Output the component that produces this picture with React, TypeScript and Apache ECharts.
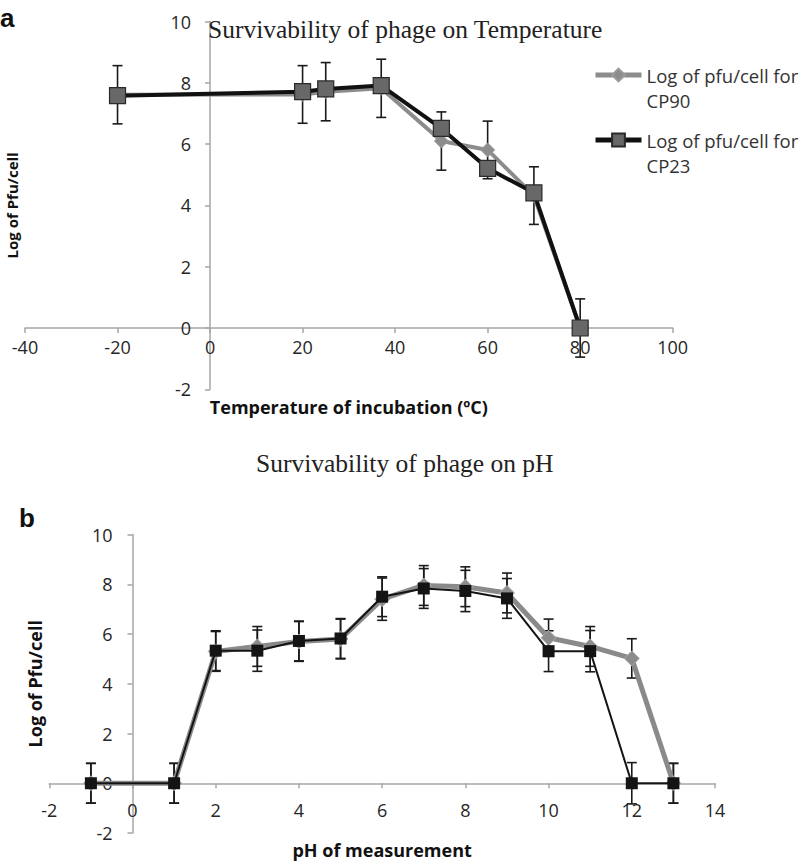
import React, { useEffect, useRef } from "react";
import * as echarts from "echarts";

// Panel a: survivability vs incubation temperature (ºC)
const tempX = [-20, 20, 25, 37, 50, 60, 70, 80];
const tempCP90 = [7.61, 7.62, 7.71, 7.82, 6.1, 5.81, 4.32, 0];
const tempCP90Err = [0.95, 0.94, 0.95, 0.95, 0.95, 0.94, 0.94, 0.95];
const tempCP23 = [7.58, 7.71, 7.8, 7.91, 6.51, 5.21, 4.41, 0];

// Panel b: survivability vs pH
const phX = [-1, 1, 2, 3, 4, 5, 6, 7, 8, 9, 10, 11, 12, 13];
const phCP90 = [0, 0, 5.3, 5.5, 5.7, 5.8, 7.4, 7.95, 7.9, 7.65, 5.85, 5.5, 5.02, 0];
const phCP90Err = [0.8, 0.8, 0.8, 0.8, 0.8, 0.8, 0.85, 0.8, 0.8, 0.8, 0.75, 0.8, 0.79, 0.8];
const phCP23 = [0, 0, 5.33, 5.33, 5.72, 5.82, 7.5, 7.83, 7.73, 7.43, 5.31, 5.31, 0, 0];
const phCP23Err = [0.8, 0.8, 0.8, 0.83, 0.8, 0.8, 0.8, 0.8, 0.83, 0.8, 0.82, 0.83, 0.83, 0.8];

// axis ranges: [min, max, interval]
const tempXRange = [-40, 100, 20];
const tempYRange = [-2, 10, 2];
const phXRange = [-2, 14, 2];
const phYRange = [-2, 10, 2];

const NAME_CP90 = "Log of pfu/cell for CP90";
const NAME_CP23 = "Log of pfu/cell for CP23";

const SANS = "Open Sans";
const AXIS_GRAY = "#a6a6a6";
const LABEL_COLOR = "#262626";

// grid boxes
const gridA = { left: 25, top: 21.5, width: 647.7, height: 367.8 };
const gridB = { left: 49.3, top: 534.5, width: 665.7, height: 298.5 };

const pairs = (xs: number[], ys: number[]) => xs.map((x, i) => [x, ys[i]]);
const ranges = (xs: number[], ys: number[], es: number[]) =>
  xs.map((x, i) => [x, ys[i] - es[i], ys[i] + es[i]]);

// distance from the grid edge (at `min`) to the zero crossing, in px
const zeroShift = (range: number[], size: number) => ((0 - range[0]) / (range[1] - range[0])) * size;

const errorBarItem = (_params: any, api: any) => {
  const x = api.value(0);
  const hi = api.coord([x, api.value(2)]);
  const lo = api.coord([x, api.value(1)]);
  const half = 5;
  const style = { stroke: "#1a1a1a", lineWidth: 1.6 };
  return {
    type: "group",
    children: [
      { type: "line", shape: { x1: hi[0], y1: hi[1], x2: lo[0], y2: lo[1] }, style },
      { type: "line", shape: { x1: hi[0] - half, y1: hi[1], x2: hi[0] + half, y2: hi[1] }, style },
      { type: "line", shape: { x1: lo[0] - half, y1: lo[1], x2: lo[0] + half, y2: lo[1] }, style },
    ],
  };
};

const valueAxis = (gridIndex: number, range: number[], labelMargin: number, offset: number, extra: any) => ({
  type: "value",
  gridIndex,
  min: range[0],
  max: range[1],
  interval: range[2],
  offset,
  splitLine: { show: false },
  axisLine: { show: true, onZero: false, lineStyle: { color: AXIS_GRAY, width: 1.5 } },
  axisTick: { show: true, length: 5, lineStyle: { color: AXIS_GRAY, width: 1.5 } },
  axisLabel: {
    margin: labelMargin,
    color: LABEL_COLOR,
    fontFamily: SANS,
    fontSize: 18,
    showMinLabel: true,
    showMaxLabel: true,
  },
  ...extra,
});

const axisNameStyle = (size: number) => ({
  fontFamily: SANS,
  fontWeight: "bold",
  fontSize: size,
  color: "#111",
});

export default function App() {
  const ref = useRef<HTMLDivElement>(null);

  useEffect(() => {
    if (!ref.current) return;
    const chart = echarts.init(ref.current, undefined, { renderer: "svg" });

    const serifTitle = { fontFamily: "Liberation Serif", fontSize: 25.5, fontWeight: "normal", color: "#222" };
    const panelTag = { fontFamily: "Liberation Sans", fontSize: 26, fontWeight: "bold", color: "#111" };

    const option: any = {
      animation: false,
      backgroundColor: "#ffffff",
      title: [
        { text: "Survivability of phage on Temperature", left: 208, top: 16, padding: 0, textStyle: serifTitle },
        { text: "Survivability of phage on pH", left: 256, top: 450, padding: 0, textStyle: serifTitle },
        { text: "a", left: 0, top: 5, padding: 0, textStyle: panelTag },
        { text: "b", left: 19, top: 505, padding: 0, textStyle: panelTag },
      ],
      legend: {
        orient: "vertical",
        left: 593,
        top: 37.5,
        padding: 0,
        itemWidth: 46,
        itemHeight: 16,
        itemGap: -10,
        lineStyle: { width: 5 },
        data: [NAME_CP90, NAME_CP23],
        formatter: (name: string) => "\n" + name.replace(" CP", "\nCP"),
        textStyle: {
          fontFamily: SANS,
          fontSize: 18.5,
          color: "#333",
          lineHeight: 25,
        },
      },
      grid: [
        { ...gridA, outerBoundsMode: "none" },
        { ...gridB, outerBoundsMode: "none" },
      ],
      xAxis: [
        valueAxis(0, tempXRange, 10, -zeroShift(tempYRange, gridA.height), {
          position: "bottom",
          name: "Temperature of incubation (ºC)",
          nameLocation: "middle",
          nameGap: 70,
          nameTextStyle: axisNameStyle(18),
        }),
        valueAxis(1, phXRange, 18, -zeroShift(phYRange, gridB.height), {
          position: "bottom",
          name: "pH of measurement",
          nameLocation: "middle",
          nameGap: 58,
          nameTextStyle: axisNameStyle(18),
        }),
      ],
      yAxis: [
        valueAxis(0, tempYRange, 19, -zeroShift(tempXRange, gridA.width), {
          position: "left",
          name: "Log of Pfu/cell",
          nameLocation: "middle",
          nameGap: 191,
          nameTextStyle: axisNameStyle(15),
        }),
        valueAxis(1, phYRange, 20, -zeroShift(phXRange, gridB.width), {
          position: "left",
          name: "Log of Pfu/cell",
          nameLocation: "middle",
          nameGap: 89,
          nameTextStyle: axisNameStyle(18),
        }),
      ],
      series: [
        // panel a
        {
          type: "custom",
          name: "err-temp-cp90",
          xAxisIndex: 0,
          yAxisIndex: 0,
          z: 1,
          renderItem: errorBarItem,
          encode: { x: 0, y: [1, 2] },
          data: ranges(tempX, tempCP90, tempCP90Err),
        },
        {
          type: "line",
          name: NAME_CP90,
          xAxisIndex: 0,
          yAxisIndex: 0,
          z: 2,
          data: pairs(tempX, tempCP90),
          symbol: "diamond",
          symbolSize: 14,
          lineStyle: { color: "#8c8c8c", width: 4 },
          itemStyle: { color: "#8c8c8c", borderColor: "#9a9a9a", borderWidth: 1 },
        },
        {
          type: "line",
          name: NAME_CP23,
          xAxisIndex: 0,
          yAxisIndex: 0,
          z: 3,
          data: pairs(tempX, tempCP23),
          symbol: "rect",
          symbolSize: 16,
          lineStyle: { color: "#111111", width: 4 },
          itemStyle: { color: "#686868", borderColor: "#2a2a2a", borderWidth: 1.2 },
        },
        // panel b
        {
          type: "custom",
          name: "err-ph-cp90",
          xAxisIndex: 1,
          yAxisIndex: 1,
          z: 1,
          renderItem: errorBarItem,
          encode: { x: 0, y: [1, 2] },
          data: ranges(phX, phCP90, phCP90Err),
        },
        {
          type: "custom",
          name: "err-ph-cp23",
          xAxisIndex: 1,
          yAxisIndex: 1,
          z: 1,
          renderItem: errorBarItem,
          encode: { x: 0, y: [1, 2] },
          data: ranges(phX, phCP23, phCP23Err),
        },
        {
          type: "line",
          name: "CP90 pH",
          xAxisIndex: 1,
          yAxisIndex: 1,
          z: 2,
          data: pairs(phX, phCP90),
          symbol: "diamond",
          symbolSize: 15,
          lineStyle: { color: "#8a8a8a", width: 5 },
          itemStyle: { color: "#8c8c8c", borderColor: "#a8a8a8", borderWidth: 1 },
        },
        {
          type: "line",
          name: "CP23 pH",
          xAxisIndex: 1,
          yAxisIndex: 1,
          z: 3,
          data: pairs(phX, phCP23),
          symbol: "rect",
          symbolSize: 12,
          lineStyle: { color: "#141414", width: 2 },
          itemStyle: { color: "#141414" },
        },
      ],
    };

    chart.setOption(option);
    return () => chart.dispose();
  }, []);

  return (
    <div
      ref={ref}
      style={{ position: "absolute", left: 0, top: 0, width: 800, height: 861, background: "#fff" }}
    />
  );
}
